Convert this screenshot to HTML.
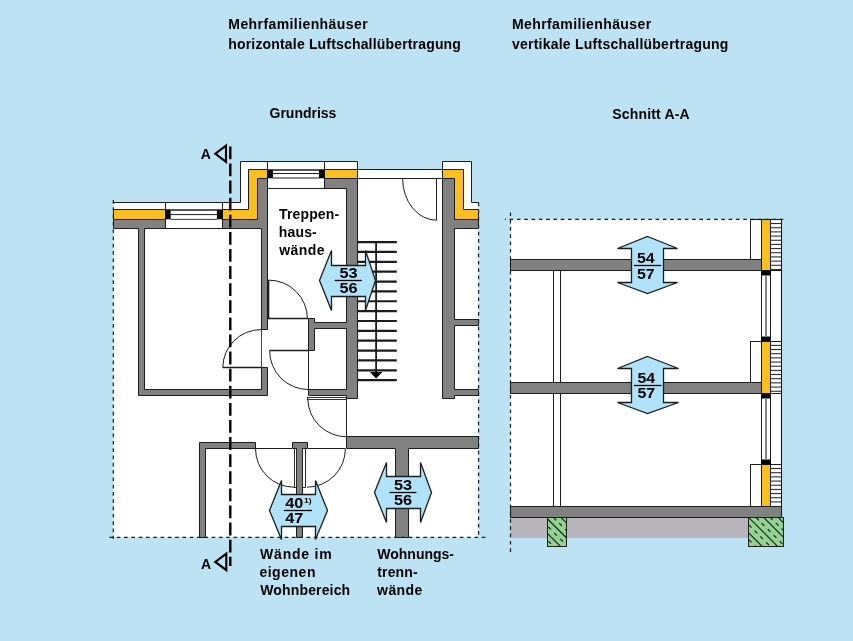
<!DOCTYPE html>
<html><head><meta charset="utf-8"><style>
html,body{margin:0;padding:0;background:#bde2f4;}
svg{display:block;will-change:transform;}
text{font-family:"Liberation Sans",sans-serif;font-weight:bold;fill:#000;}
</style></head><body>
<svg width="853" height="641" viewBox="0 0 853 641">
<rect width="853" height="641" fill="#bde2f4"/>
<polygon points="113.5,202.5 240.5,202.5 240.5,161.5 357.5,161.5 357.5,169.5 442.5,169.5 442.5,161.5 471.5,161.5 471.5,202.5 478.5,202.5 478.5,537.5 113.5,537.5" fill="#fff" stroke="none" stroke-width="1.0" />
<path d="M113.3,202.5 H240.5 V161.5 H357.5 V169.5 M442.5,169.5 V161.5 H471.5 V202.5 H478.6" fill="none" stroke="#1c1c1c" stroke-width="1.0" />
<rect x="357.5" y="169.5" width="85.0" height="9.0" fill="#fff" stroke="#1c1c1c" stroke-width="1.0" />
<polygon points="113.5,209.5 248.5,209.5 248.5,169.5 357.5,169.5 357.5,178.5 257.5,178.5 257.5,219.5 113.5,219.5" fill="#f9be20" stroke="#1c1c1c" stroke-width="1.0" />
<polygon points="442.5,169.5 463.5,169.5 463.5,209.5 478.5,209.5 478.5,219.5 454.5,219.5 454.5,178.5 442.5,178.5" fill="#f9be20" stroke="#1c1c1c" stroke-width="1.0" />
<polygon points="113.5,219.5 257.5,219.5 257.5,178.5 357.5,178.5 357.5,398.5 346.5,398.5 346.5,395.5 308.5,395.5 308.5,389.5 346.5,389.5 346.5,328.5 314.5,328.5 314.5,350.5 308.5,350.5 308.5,318.5 314.5,318.5 314.5,322.5 346.5,322.5 346.5,188.5 267.5,188.5 267.5,329.5 261.5,329.5 261.5,228.5 144.5,228.5 144.5,389.5 261.5,389.5 261.5,367.5 267.5,367.5 267.5,395.5 138.5,395.5 138.5,228.5 113.5,228.5" fill="#818181" stroke="#1c1c1c" stroke-width="1.0" />
<polygon points="442.5,178.5 454.5,178.5 454.5,219.5 478.5,219.5 478.5,228.5 454.5,228.5 454.5,319.5 478.5,319.5 478.5,325.5 454.5,325.5 454.5,389.5 478.5,389.5 478.5,395.5 454.5,395.5 454.5,398.5 442.5,398.5" fill="#818181" stroke="#1c1c1c" stroke-width="1.0" />
<polygon points="346.5,436.5 478.5,436.5 478.5,448.5 408.5,448.5 408.5,537.5 395.5,537.5 395.5,448.5 346.5,448.5" fill="#818181" stroke="#1c1c1c" stroke-width="1.0" />
<polygon points="199.5,442.5 255.5,442.5 255.5,448.5 205.5,448.5 205.5,537.5 199.5,537.5" fill="#818181" stroke="#1c1c1c" stroke-width="1.0" />
<polygon points="292.5,442.5 307.5,442.5 307.5,448.5 302.5,448.5 302.5,537.5 296.5,537.5 296.5,448.5 292.5,448.5" fill="#818181" stroke="#1c1c1c" stroke-width="1.0" />
<rect x="165.5" y="202.5" width="57.0" height="26.0" fill="#fff" stroke="#1c1c1c" stroke-width="1.0" />
<rect x="165.0" y="209.3" width="5.7" height="10.0" fill="#000" stroke="none" stroke-width="1.0" />
<rect x="216.9" y="209.3" width="5.7" height="10.0" fill="#000" stroke="none" stroke-width="1.0" />
<line x1="170.6" y1="210.0" x2="217" y2="210.0" stroke="#1c1c1c" stroke-width="1.5" />
<line x1="170.6" y1="214.6" x2="217" y2="214.6" stroke="#1c1c1c" stroke-width="1.0" />
<line x1="170.6" y1="219.4" x2="217" y2="219.4" stroke="#1c1c1c" stroke-width="0.9" />
<rect x="267.5" y="161.5" width="57.0" height="27.0" fill="#fff" stroke="#1c1c1c" stroke-width="1.0" />
<rect x="267.2" y="169.3" width="5.7" height="9.0" fill="#000" stroke="none" stroke-width="1.0" />
<rect x="319.0" y="169.3" width="5.8" height="9.0" fill="#000" stroke="none" stroke-width="1.0" />
<line x1="272.8" y1="170.0" x2="319.1" y2="170.0" stroke="#1c1c1c" stroke-width="1.5" />
<line x1="272.8" y1="173.5" x2="319.1" y2="173.5" stroke="#1c1c1c" stroke-width="1.0" />
<line x1="272.8" y1="178.0" x2="319.1" y2="178.0" stroke="#1c1c1c" stroke-width="1.0" />
<path d="M402.6,178.4 A33.9,41.8 0 0 0 436.5,220.2 V178.4" fill="none" stroke="#1c1c1c" stroke-width="1.0" />
<path d="M268.4,280.1 A38.8,38.6 0 0 1 307.4,318.7" fill="none" stroke="#1c1c1c" stroke-width="1.0" />
<line x1="268.5" y1="280.1" x2="268.5" y2="318.7" stroke="#1c1c1c" stroke-width="1.6" />
<line x1="268.0" y1="318.5" x2="308.3" y2="318.5" stroke="#1c1c1c" stroke-width="1.3" />
<line x1="261.5" y1="329.6" x2="261.5" y2="367.5" stroke="#1c1c1c" stroke-width="0.8" />
<path d="M269.6,350.5 A38.5,39 0 0 0 308.3,389.5" fill="none" stroke="#1c1c1c" stroke-width="1.0" />
<line x1="269.6" y1="350.5" x2="308.3" y2="350.5" stroke="#1c1c1c" stroke-width="1.3" />
<line x1="308.5" y1="350.6" x2="308.5" y2="389.4" stroke="#1c1c1c" stroke-width="1.0" />
<path d="M307.8,398.5 A39,38.3 0 0 0 346.8,436.8" fill="none" stroke="#1c1c1c" stroke-width="1.0" />
<rect x="307.5" y="397.5" width="39.0" height="2.0" fill="#fff" stroke="#1c1c1c" stroke-width="0.9" />
<line x1="346.5" y1="398.5" x2="346.5" y2="436.7" stroke="#1c1c1c" stroke-width="1.0" />
<path d="M222.8,367.5 A38.3,38 0 0 1 261.1,329.6" fill="none" stroke="#1c1c1c" stroke-width="1.0" />
<line x1="222.8" y1="367.5" x2="261.1" y2="367.5" stroke="#1c1c1c" stroke-width="1.3" />
<line x1="255.5" y1="448.5" x2="292.3" y2="448.5" stroke="#1c1c1c" stroke-width="1.0" />
<line x1="307.8" y1="448.5" x2="345.4" y2="448.5" stroke="#1c1c1c" stroke-width="1.0" />
<path d="M255.5,448.6 A38.6,38.6 0 0 0 294.1,487.2" fill="none" stroke="#1c1c1c" stroke-width="1.0" />
<path d="M345.4,448.6 A38.5,38.6 0 0 1 306.9,487.2" fill="none" stroke="#1c1c1c" stroke-width="1.0" />
<rect x="294.5" y="448.5" width="2.0" height="39.0" fill="#fff" stroke="#1c1c1c" stroke-width="0.9" />
<rect x="302.5" y="448.5" width="3.0" height="39.0" fill="#fff" stroke="#1c1c1c" stroke-width="0.9" />
<line x1="357.6" y1="242.1" x2="396.8" y2="242.1" stroke="#1c1c1c" stroke-width="2.2" />
<line x1="357.6" y1="251.96" x2="396.8" y2="251.96" stroke="#1c1c1c" stroke-width="2.2" />
<line x1="357.6" y1="261.82" x2="396.8" y2="261.82" stroke="#1c1c1c" stroke-width="2.2" />
<line x1="357.6" y1="271.68" x2="396.8" y2="271.68" stroke="#1c1c1c" stroke-width="2.2" />
<line x1="357.6" y1="281.54" x2="396.8" y2="281.54" stroke="#1c1c1c" stroke-width="2.2" />
<line x1="357.6" y1="291.4" x2="396.8" y2="291.4" stroke="#1c1c1c" stroke-width="2.2" />
<line x1="357.6" y1="301.26" x2="396.8" y2="301.26" stroke="#1c1c1c" stroke-width="2.2" />
<line x1="357.6" y1="311.12" x2="396.8" y2="311.12" stroke="#1c1c1c" stroke-width="2.2" />
<line x1="357.6" y1="320.98" x2="396.8" y2="320.98" stroke="#1c1c1c" stroke-width="2.2" />
<line x1="357.6" y1="330.84" x2="396.8" y2="330.84" stroke="#1c1c1c" stroke-width="2.2" />
<line x1="357.6" y1="340.7" x2="396.8" y2="340.7" stroke="#1c1c1c" stroke-width="2.2" />
<line x1="357.6" y1="350.56" x2="396.8" y2="350.56" stroke="#1c1c1c" stroke-width="2.2" />
<line x1="357.6" y1="360.42" x2="396.8" y2="360.42" stroke="#1c1c1c" stroke-width="2.2" />
<line x1="357.6" y1="370.28" x2="396.8" y2="370.28" stroke="#1c1c1c" stroke-width="2.2" />
<line x1="357.6" y1="380.14" x2="396.8" y2="380.14" stroke="#1c1c1c" stroke-width="2.2" />
<line x1="376.1" y1="241.8" x2="376.1" y2="373" stroke="#1c1c1c" stroke-width="1.8" />
<polygon points="369.9,371.9 382.4,371.9 376.1,378.4" fill="#000" stroke="none" stroke-width="1.0" />
<path d="M113.3,200 V539" stroke="#1c1c1c" stroke-width="1.2" stroke-dasharray="3.7 3.6" fill="none"/>
<path d="M478.6,202.5 V537" stroke="#1c1c1c" stroke-width="1.2" stroke-dasharray="3.7 3.6" fill="none"/>
<path d="M109.4,537.4 H486" stroke="#1c1c1c" stroke-width="1.2" stroke-dasharray="3.7 3.6" fill="none"/>
<path d="M230.3,146.4 V566" stroke="#000" stroke-width="2.4" stroke-dasharray="12.8 4.3" fill="none"/>
<path d="M226.0,145.6 V161.8 L215.3,153.7 Z" fill="none" stroke="#000" stroke-width="2.1" stroke-linejoin="miter"/>
<path d="M226.3,553.7 V570.2 L215.3,561.9 Z" fill="none" stroke="#000" stroke-width="2.1" stroke-linejoin="miter"/>
<rect x="510.5" y="219.5" width="271.0" height="287.0" fill="#fff" stroke="none" stroke-width="1.0" />
<rect x="510.5" y="517" width="237.9" height="21" fill="#b8b5bc" stroke="none" stroke-width="1.0" />
<rect x="750.5" y="219.5" width="11.0" height="40.0" fill="#fff" stroke="#1c1c1c" stroke-width="1.0" />
<rect x="750.5" y="341.5" width="11.0" height="42.0" fill="#fff" stroke="#1c1c1c" stroke-width="1.0" />
<rect x="750.5" y="464.5" width="11.0" height="42.0" fill="#fff" stroke="#1c1c1c" stroke-width="1.0" />
<rect x="510.5" y="259.5" width="251.0" height="11.0" fill="#818181" stroke="#1c1c1c" stroke-width="1.0" />
<rect x="510.5" y="382.5" width="251.0" height="11.0" fill="#818181" stroke="#1c1c1c" stroke-width="1.0" />
<rect x="510.5" y="506.5" width="271.0" height="11.0" fill="#818181" stroke="#1c1c1c" stroke-width="1.0" />
<rect x="553.5" y="270.5" width="7.0" height="112.0" fill="#fff" stroke="#1c1c1c" stroke-width="1.0" />
<rect x="553.5" y="393.5" width="7.0" height="113.0" fill="#fff" stroke="#1c1c1c" stroke-width="1.0" />
<rect x="761.5" y="219.5" width="9.0" height="51.0" fill="#f9be20" stroke="#1c1c1c" stroke-width="1.0" />
<rect x="770.5" y="219.5" width="11.0" height="51.0" fill="#fff" stroke="#1c1c1c" stroke-width="1.0" />
<line x1="770.3" y1="223.57" x2="781.6" y2="223.57" stroke="#1c1c1c" stroke-width="1.0" />
<line x1="770.3" y1="227.74" x2="781.6" y2="227.74" stroke="#1c1c1c" stroke-width="1.0" />
<line x1="770.3" y1="231.91" x2="781.6" y2="231.91" stroke="#1c1c1c" stroke-width="1.0" />
<line x1="770.3" y1="236.08" x2="781.6" y2="236.08" stroke="#1c1c1c" stroke-width="1.0" />
<line x1="770.3" y1="240.25" x2="781.6" y2="240.25" stroke="#1c1c1c" stroke-width="1.0" />
<line x1="770.3" y1="244.42" x2="781.6" y2="244.42" stroke="#1c1c1c" stroke-width="1.0" />
<line x1="770.3" y1="248.59" x2="781.6" y2="248.59" stroke="#1c1c1c" stroke-width="1.0" />
<line x1="770.3" y1="252.76" x2="781.6" y2="252.76" stroke="#1c1c1c" stroke-width="1.0" />
<line x1="770.3" y1="256.93" x2="781.6" y2="256.93" stroke="#1c1c1c" stroke-width="1.0" />
<line x1="770.3" y1="261.1" x2="781.6" y2="261.1" stroke="#1c1c1c" stroke-width="1.0" />
<line x1="770.3" y1="265.27" x2="781.6" y2="265.27" stroke="#1c1c1c" stroke-width="1.0" />
<line x1="770.3" y1="269.44" x2="781.6" y2="269.44" stroke="#1c1c1c" stroke-width="1.0" />
<rect x="761.5" y="341.5" width="9.0" height="52.0" fill="#f9be20" stroke="#1c1c1c" stroke-width="1.0" />
<rect x="770.5" y="341.5" width="11.0" height="52.0" fill="#fff" stroke="#1c1c1c" stroke-width="1.0" />
<line x1="770.3" y1="345.37" x2="781.6" y2="345.37" stroke="#1c1c1c" stroke-width="1.0" />
<line x1="770.3" y1="349.54" x2="781.6" y2="349.54" stroke="#1c1c1c" stroke-width="1.0" />
<line x1="770.3" y1="353.71" x2="781.6" y2="353.71" stroke="#1c1c1c" stroke-width="1.0" />
<line x1="770.3" y1="357.88" x2="781.6" y2="357.88" stroke="#1c1c1c" stroke-width="1.0" />
<line x1="770.3" y1="362.05" x2="781.6" y2="362.05" stroke="#1c1c1c" stroke-width="1.0" />
<line x1="770.3" y1="366.22" x2="781.6" y2="366.22" stroke="#1c1c1c" stroke-width="1.0" />
<line x1="770.3" y1="370.39" x2="781.6" y2="370.39" stroke="#1c1c1c" stroke-width="1.0" />
<line x1="770.3" y1="374.56" x2="781.6" y2="374.56" stroke="#1c1c1c" stroke-width="1.0" />
<line x1="770.3" y1="378.73" x2="781.6" y2="378.73" stroke="#1c1c1c" stroke-width="1.0" />
<line x1="770.3" y1="382.9" x2="781.6" y2="382.9" stroke="#1c1c1c" stroke-width="1.0" />
<line x1="770.3" y1="387.07" x2="781.6" y2="387.07" stroke="#1c1c1c" stroke-width="1.0" />
<line x1="770.3" y1="391.24" x2="781.6" y2="391.24" stroke="#1c1c1c" stroke-width="1.0" />
<rect x="761.5" y="464.5" width="9.0" height="42.0" fill="#f9be20" stroke="#1c1c1c" stroke-width="1.0" />
<rect x="770.5" y="464.5" width="11.0" height="42.0" fill="#fff" stroke="#1c1c1c" stroke-width="1.0" />
<line x1="770.3" y1="468.57" x2="781.6" y2="468.57" stroke="#1c1c1c" stroke-width="1.0" />
<line x1="770.3" y1="472.74" x2="781.6" y2="472.74" stroke="#1c1c1c" stroke-width="1.0" />
<line x1="770.3" y1="476.91" x2="781.6" y2="476.91" stroke="#1c1c1c" stroke-width="1.0" />
<line x1="770.3" y1="481.08" x2="781.6" y2="481.08" stroke="#1c1c1c" stroke-width="1.0" />
<line x1="770.3" y1="485.25" x2="781.6" y2="485.25" stroke="#1c1c1c" stroke-width="1.0" />
<line x1="770.3" y1="489.42" x2="781.6" y2="489.42" stroke="#1c1c1c" stroke-width="1.0" />
<line x1="770.3" y1="493.59" x2="781.6" y2="493.59" stroke="#1c1c1c" stroke-width="1.0" />
<line x1="770.3" y1="497.76" x2="781.6" y2="497.76" stroke="#1c1c1c" stroke-width="1.0" />
<line x1="770.3" y1="501.93" x2="781.6" y2="501.93" stroke="#1c1c1c" stroke-width="1.0" />
<rect x="761.5" y="270.5" width="9.0" height="71.0" fill="#fff" stroke="#1c1c1c" stroke-width="1.0" />
<rect x="770.5" y="270.5" width="11.0" height="71.0" fill="#fff" stroke="#1c1c1c" stroke-width="1.0" />
<rect x="761.5" y="270.5" width="9.0" height="5.0" fill="#000" stroke="none" stroke-width="1.0" />
<rect x="761.5" y="336.5" width="9.0" height="5.0" fill="#000" stroke="none" stroke-width="1.0" />
<line x1="765.5" y1="275.6" x2="765.5" y2="336.0" stroke="#777" stroke-width="0.9" />
<line x1="766.5" y1="275.6" x2="766.5" y2="336.0" stroke="#777" stroke-width="0.9" />
<rect x="761.5" y="393.5" width="9.0" height="71.0" fill="#fff" stroke="#1c1c1c" stroke-width="1.0" />
<rect x="770.5" y="393.5" width="11.0" height="71.0" fill="#fff" stroke="#1c1c1c" stroke-width="1.0" />
<rect x="761.5" y="393.5" width="9.0" height="5.0" fill="#000" stroke="none" stroke-width="1.0" />
<rect x="761.5" y="459.5" width="9.0" height="5.0" fill="#000" stroke="none" stroke-width="1.0" />
<line x1="765.5" y1="398.6" x2="765.5" y2="459.2" stroke="#777" stroke-width="0.9" />
<line x1="766.5" y1="398.6" x2="766.5" y2="459.2" stroke="#777" stroke-width="0.9" />
<line x1="781.5" y1="219.4" x2="781.5" y2="517" stroke="#1c1c1c" stroke-width="1.1" />
<line x1="750.6" y1="219.5" x2="781.8" y2="219.5" stroke="#1c1c1c" stroke-width="1.1" />
<clipPath id="f1"><rect x="547.7" y="517" width="18.9" height="29.7"/></clipPath>
<clipPath id="f2"><rect x="748.4" y="517" width="35.4" height="29.4"/></clipPath>
<rect x="547.5" y="517.5" width="19.0" height="29.0" fill="#92d392" stroke="#1c1c1c" stroke-width="1.0" />
<g clip-path="url(#f1)">
<line x1="514.5" y1="515.2" x2="547.9" y2="548.6" stroke="#1c1c1c" stroke-width="1.15" />
<line x1="529.2" y1="515.2" x2="562.6" y2="548.6" stroke="#1c1c1c" stroke-width="1.15" />
<line x1="543.8" y1="515.2" x2="577.2" y2="548.6" stroke="#1c1c1c" stroke-width="1.15" />
<line x1="558.7" y1="515.2" x2="592.1" y2="548.6" stroke="#1c1c1c" stroke-width="1.15" />
<line x1="548.25" y1="541.05" x2="550.95" y2="543.75" stroke="#1c1c1c" stroke-width="1.15" />
<line x1="554.15" y1="546.95" x2="556.85" y2="549.65" stroke="#1c1c1c" stroke-width="1.15" />
<line x1="548.25" y1="526.95" x2="550.95" y2="529.65" stroke="#1c1c1c" stroke-width="1.15" />
<line x1="554.15" y1="532.85" x2="556.85" y2="535.55" stroke="#1c1c1c" stroke-width="1.15" />
<line x1="560.25" y1="538.95" x2="562.95" y2="541.65" stroke="#1c1c1c" stroke-width="1.15" />
<line x1="553.65" y1="517.65" x2="556.35" y2="520.35" stroke="#1c1c1c" stroke-width="1.15" />
<line x1="559.25" y1="523.25" x2="561.95" y2="525.95" stroke="#1c1c1c" stroke-width="1.15" />
<line x1="565.05" y1="529.05" x2="567.75" y2="531.75" stroke="#1c1c1c" stroke-width="1.15" />
<line x1="565.65" y1="515.15" x2="568.35" y2="517.85" stroke="#1c1c1c" stroke-width="1.15" />
</g>
<rect x="547.5" y="517.5" width="19.0" height="29.0" fill="none" stroke="#1c1c1c" stroke-width="1.0" />
<rect x="748.5" y="517.5" width="35.0" height="29.0" fill="#92d392" stroke="#1c1c1c" stroke-width="1.0" />
<g clip-path="url(#f2)">
<line x1="716.2" y1="515.2" x2="749.4" y2="548.4" stroke="#1c1c1c" stroke-width="1.15" />
<line x1="731.0" y1="515.2" x2="764.2" y2="548.4" stroke="#1c1c1c" stroke-width="1.15" />
<line x1="746.4" y1="515.2" x2="779.6" y2="548.4" stroke="#1c1c1c" stroke-width="1.15" />
<line x1="761.4" y1="515.2" x2="794.6" y2="548.4" stroke="#1c1c1c" stroke-width="1.15" />
<line x1="776.0" y1="515.2" x2="809.2" y2="548.4" stroke="#1c1c1c" stroke-width="1.15" />
<line x1="790.2" y1="515.2" x2="823.4" y2="548.4" stroke="#1c1c1c" stroke-width="1.15" />
<line x1="748.85" y1="539.65" x2="751.55" y2="542.35" stroke="#1c1c1c" stroke-width="1.15" />
<line x1="754.75" y1="545.55" x2="757.45" y2="548.25" stroke="#1c1c1c" stroke-width="1.15" />
<line x1="748.85" y1="524.95" x2="751.55" y2="527.65" stroke="#1c1c1c" stroke-width="1.15" />
<line x1="754.65" y1="530.75" x2="757.35" y2="533.45" stroke="#1c1c1c" stroke-width="1.15" />
<line x1="760.25" y1="536.35" x2="762.95" y2="539.05" stroke="#1c1c1c" stroke-width="1.15" />
<line x1="766.25" y1="542.35" x2="768.95" y2="545.05" stroke="#1c1c1c" stroke-width="1.15" />
<line x1="772.05" y1="548.15" x2="774.75" y2="550.85" stroke="#1c1c1c" stroke-width="1.15" />
<line x1="756.25" y1="517.75" x2="758.95" y2="520.45" stroke="#1c1c1c" stroke-width="1.15" />
<line x1="761.55" y1="523.05" x2="764.25" y2="525.75" stroke="#1c1c1c" stroke-width="1.15" />
<line x1="767.75" y1="529.25" x2="770.45" y2="531.95" stroke="#1c1c1c" stroke-width="1.15" />
<line x1="773.75" y1="535.25" x2="776.45" y2="537.95" stroke="#1c1c1c" stroke-width="1.15" />
<line x1="779.65" y1="541.15" x2="782.35" y2="543.85" stroke="#1c1c1c" stroke-width="1.15" />
<line x1="769.95" y1="517.05" x2="772.65" y2="519.75" stroke="#1c1c1c" stroke-width="1.15" />
<line x1="775.85" y1="522.95" x2="778.55" y2="525.65" stroke="#1c1c1c" stroke-width="1.15" />
<line x1="781.55" y1="528.65" x2="784.25" y2="531.35" stroke="#1c1c1c" stroke-width="1.15" />
<line x1="782.65" y1="515.15" x2="785.35" y2="517.85" stroke="#1c1c1c" stroke-width="1.15" />
</g>
<rect x="748.5" y="517.5" width="35.0" height="29.0" fill="none" stroke="#1c1c1c" stroke-width="1.0" />
<path d="M504.9,219.4 H783.6" stroke="#1c1c1c" stroke-width="1.2" stroke-dasharray="3.6 3.7" stroke-dashoffset="2.6" fill="none"/>
<path d="M510.5,212.4 V552" stroke="#1c1c1c" stroke-width="1.2" stroke-dasharray="3.7 3.6" fill="none"/>
<polygon points="331.5,250.5 331.5,265.5 365.5,265.5 365.5,250.5 375.5,280.5 365.5,310.5 365.5,296.5 331.5,296.5 331.5,310.5 319.5,280.5" fill="#b0e3f9" stroke="#1c1c1c" stroke-width="1.3" stroke-linejoin="miter"/>
<polygon points="386.5,462.5 386.5,476.5 420.5,476.5 420.5,462.5 431.5,492.5 420.5,522.5 420.5,508.5 386.5,508.5 386.5,522.5 374.5,492.5" fill="#b0e3f9" stroke="#1c1c1c" stroke-width="1.3" stroke-linejoin="miter"/>
<polygon points="281.5,480.5 281.5,494.5 315.5,494.5 315.5,480.5 327.5,510.5 315.5,539.5 315.5,526.5 281.5,526.5 281.5,539.5 269.5,510.5" fill="#b0e3f9" stroke="#1c1c1c" stroke-width="1.3" stroke-linejoin="miter"/>
<polygon points="647.5,236.5 677.5,248.5 663.5,248.5 663.5,282.5 677.5,282.5 647.5,293.5 617.5,282.5 631.5,282.5 631.5,248.5 617.5,248.5" fill="#b0e3f9" stroke="#1c1c1c" stroke-width="1.3" stroke-linejoin="miter"/>
<polygon points="647.5,356.5 678.5,368.5 663.5,368.5 663.5,402.5 678.5,402.5 647.5,413.5 617.5,402.5 631.5,402.5 631.5,368.5 617.5,368.5" fill="#b0e3f9" stroke="#1c1c1c" stroke-width="1.3" stroke-linejoin="miter"/>
<line x1="334.7" y1="280.5" x2="361.8" y2="280.5" stroke="#000" stroke-width="1.3" />
<text x="339.4" y="278.4" font-size="14.6" textLength="18.1" lengthAdjust="spacingAndGlyphs">53</text>
<text x="339.4" y="293.2" font-size="14.6" textLength="18.1" lengthAdjust="spacingAndGlyphs">56</text>
<line x1="389.5" y1="492.5" x2="416.4" y2="492.5" stroke="#000" stroke-width="1.3" />
<text x="393.9" y="490.1" font-size="14.6" textLength="18.1" lengthAdjust="spacingAndGlyphs">53</text>
<text x="393.9" y="505.3" font-size="14.6" textLength="18.1" lengthAdjust="spacingAndGlyphs">56</text>
<line x1="633.9" y1="265.5" x2="661.2" y2="265.5" stroke="#000" stroke-width="1.3" />
<text x="637.0" y="263.1" font-size="14.6" textLength="17.7" lengthAdjust="spacingAndGlyphs">54</text>
<text x="637.0" y="278.5" font-size="14.6" textLength="17.7" lengthAdjust="spacingAndGlyphs">57</text>
<line x1="634.0" y1="385.5" x2="661.5" y2="385.5" stroke="#000" stroke-width="1.3" />
<text x="637.4" y="382.8" font-size="14.6" textLength="17.7" lengthAdjust="spacingAndGlyphs">54</text>
<text x="637.4" y="398.2" font-size="14.6" textLength="17.7" lengthAdjust="spacingAndGlyphs">57</text>
<line x1="283.8" y1="510.5" x2="312.0" y2="510.5" stroke="#000" stroke-width="1.3" />
<text x="285.2" y="508.1" font-size="14.6" textLength="18.1" lengthAdjust="spacingAndGlyphs">40</text>
<text x="304.0" y="503.4" font-size="6.8" textLength="7.6" lengthAdjust="spacingAndGlyphs">1)</text>
<text x="285.2" y="523.0" font-size="14.6" textLength="18.1" lengthAdjust="spacingAndGlyphs">47</text>
<text x="228.3" y="28.8" font-size="14" textLength="139.3" lengthAdjust="spacing">Mehrfamilienhäuser</text>
<text x="228.3" y="48.5" font-size="14" textLength="232.6" lengthAdjust="spacing">horizontale Luftschallübertragung</text>
<text x="511.9" y="28.8" font-size="14" textLength="139.3" lengthAdjust="spacing">Mehrfamilienhäuser</text>
<text x="511.9" y="48.5" font-size="14" textLength="216.5" lengthAdjust="spacing">vertikale Luftschallübertragung</text>
<text x="269.5" y="118.4" font-size="14" text-anchor="start" >Grundriss</text>
<text x="612.2" y="118.6" font-size="14" textLength="77.46" lengthAdjust="spacing">Schnitt A-A</text>
<text x="279.0" y="218.8" font-size="14" textLength="60.15" lengthAdjust="spacing">Treppen-</text>
<text x="278.8" y="237.1" font-size="14" textLength="37.97" lengthAdjust="spacing">haus-</text>
<text x="279.3" y="255.4" font-size="14" textLength="45.2" lengthAdjust="spacing">wände</text>
<text x="260.1" y="558.5" font-size="14" textLength="71.61" lengthAdjust="spacing">Wände im</text>
<text x="259.4" y="576.9" font-size="14" textLength="56.06" lengthAdjust="spacing">eigenen</text>
<text x="260.2" y="594.9" font-size="14" textLength="89.96" lengthAdjust="spacing">Wohnbereich</text>
<text x="377.3" y="558.5" font-size="14" text-anchor="start" >Wohnungs-</text>
<text x="377.2" y="576.9" font-size="14" textLength="40.51" lengthAdjust="spacing">trenn-</text>
<text x="377.1" y="594.9" font-size="14" textLength="45.2" lengthAdjust="spacing">wände</text>
<text x="200.8" y="158.8" font-size="14" text-anchor="start" >A</text>
<text x="200.9" y="568.6" font-size="14" text-anchor="start" >A</text>
</svg>
</body></html>
